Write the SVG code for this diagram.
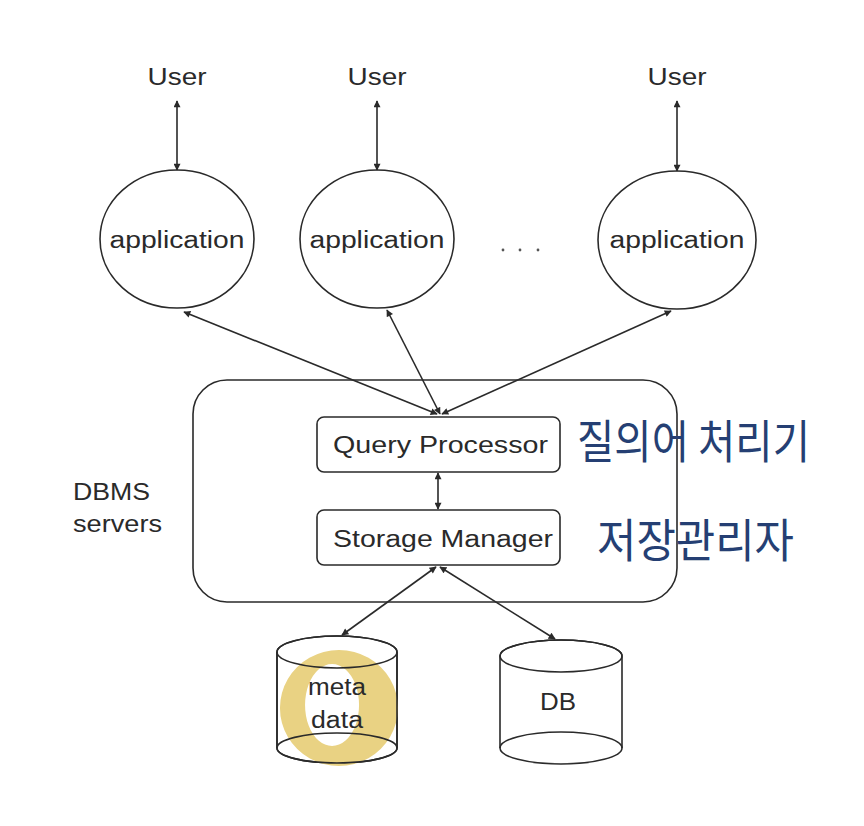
<svg xmlns="http://www.w3.org/2000/svg" width="864" height="826" viewBox="0 0 864 826">
<style>
.ln{stroke:#2a2a2a;stroke-width:1.6;fill:none}
.shape{stroke:#2a2a2a;stroke-width:1.6;fill:#fff}
.t{font-family:"Liberation Sans",Arial,sans-serif;fill:#2a2a2a;font-size:23px}
.hw{font-family:"Noto Sans CJK KR",sans-serif;fill:#253f73;font-size:46px}
</style>
<defs>
<marker id="ah" viewBox="0 0 10 10" refX="9" refY="5" markerWidth="8" markerHeight="7" markerUnits="userSpaceOnUse" orient="auto-start-reverse">
<path d="M0,0 L10,5 L0,10 z" fill="#2a2a2a"/>
</marker>
</defs>
<rect width="864" height="826" fill="#fff"/>

<g id="user1"><text class="t" x="177" y="85" text-anchor="middle" textLength="59" lengthAdjust="spacingAndGlyphs">User</text></g>
<g id="user2"><text class="t" x="377" y="85" text-anchor="middle" textLength="59" lengthAdjust="spacingAndGlyphs">User</text></g>
<g id="user3"><text class="t" x="677" y="85" text-anchor="middle" textLength="59" lengthAdjust="spacingAndGlyphs">User</text></g>

<g id="app1"><ellipse class="shape" cx="177" cy="239" rx="77" ry="69"/><text class="t" x="177" y="248" text-anchor="middle" textLength="135" lengthAdjust="spacingAndGlyphs">application</text></g>
<g id="app2"><ellipse class="shape" cx="377" cy="239" rx="77" ry="69"/><text class="t" x="377" y="248" text-anchor="middle" textLength="135" lengthAdjust="spacingAndGlyphs">application</text></g>
<g id="app3"><ellipse class="shape" cx="677" cy="240" rx="79" ry="69"/><text class="t" x="677" y="248" text-anchor="middle" textLength="135" lengthAdjust="spacingAndGlyphs">application</text></g>

<g id="dots"><circle cx="503" cy="250" r="1.4" fill="#555"/><circle cx="520" cy="250" r="1.4" fill="#555"/><circle cx="538" cy="250" r="1.4" fill="#555"/></g>

<g id="dbms">
<rect class="shape" x="193" y="380" width="484" height="222" rx="34"/>
<text class="t" x="73" y="500" textLength="77" lengthAdjust="spacingAndGlyphs">DBMS</text>
<text class="t" x="73" y="532" textLength="89" lengthAdjust="spacingAndGlyphs">servers</text>
</g>

<g id="qp"><rect class="shape" x="317" y="417" width="243" height="55" rx="7"/><text class="t" x="333" y="453" textLength="215" lengthAdjust="spacingAndGlyphs">Query Processor</text></g>
<g id="sm"><rect class="shape" x="317" y="510" width="243" height="55" rx="7"/><text class="t" x="333" y="547" textLength="220" lengthAdjust="spacingAndGlyphs">Storage Manager</text></g>

<g id="metadata">
<path class="shape" d="M277,652 L277,748 A60,15 0 0 0 397,748 L397,652 A60,16 0 0 0 277,652 Z"/>
<path fill="#e9d283" fill-rule="evenodd" d="M339,650 A59,58 0 1 1 338.9,650 Z M332,664 A27,41 0 1 0 332.1,664 Z"/>
<path class="ln" d="M277,652 L277,748 A60,15 0 0 0 397,748 L397,652"/>
<ellipse class="ln" cx="337" cy="652" rx="60" ry="16"/>
<path class="ln" d="M277,748 A60,15 0 0 1 397,748"/>
<text class="t" x="337" y="695" text-anchor="middle" textLength="58" lengthAdjust="spacingAndGlyphs">meta</text>
<text class="t" x="337" y="728" text-anchor="middle" textLength="52" lengthAdjust="spacingAndGlyphs">data</text>
</g>

<g id="db">
<path class="shape" d="M500,656 L500,748 A61,16 0 0 0 622,748 L622,656 A61,16 0 0 0 500,656 Z"/>
<ellipse class="ln" cx="561" cy="656" rx="61" ry="16"/>
<path class="ln" d="M500,748 A61,16 0 0 1 622,748"/>
<text class="t" x="558" y="710" text-anchor="middle" textLength="36" lengthAdjust="spacingAndGlyphs">DB</text>
</g>

<g id="connectors">
<line class="ln" x1="177" y1="101" x2="177" y2="170" marker-start="url(#ah)" marker-end="url(#ah)"/>
<line class="ln" x1="377" y1="101" x2="377" y2="170" marker-start="url(#ah)" marker-end="url(#ah)"/>
<line class="ln" x1="677" y1="101" x2="677" y2="171" marker-start="url(#ah)" marker-end="url(#ah)"/>
<line class="ln" x1="184" y1="312" x2="437" y2="414" marker-start="url(#ah)" marker-end="url(#ah)"/>
<line class="ln" x1="387" y1="310" x2="440" y2="414" marker-start="url(#ah)" marker-end="url(#ah)"/>
<line class="ln" x1="671" y1="311" x2="442" y2="414" marker-start="url(#ah)" marker-end="url(#ah)"/>
<line class="ln" x1="438" y1="473" x2="438" y2="509" marker-start="url(#ah)" marker-end="url(#ah)"/>
<line class="ln" x1="436" y1="567" x2="342" y2="635" marker-start="url(#ah)" marker-end="url(#ah)"/>
<line class="ln" x1="440" y1="567" x2="555" y2="639" marker-start="url(#ah)" marker-end="url(#ah)"/>
</g>

<g id="notes">
<text class="hw" x="577" y="458" textLength="233" lengthAdjust="spacingAndGlyphs">질의어 처리기</text>
<text class="hw" x="597" y="557" textLength="197" lengthAdjust="spacingAndGlyphs">저장관리자</text>
</g>
</svg>
